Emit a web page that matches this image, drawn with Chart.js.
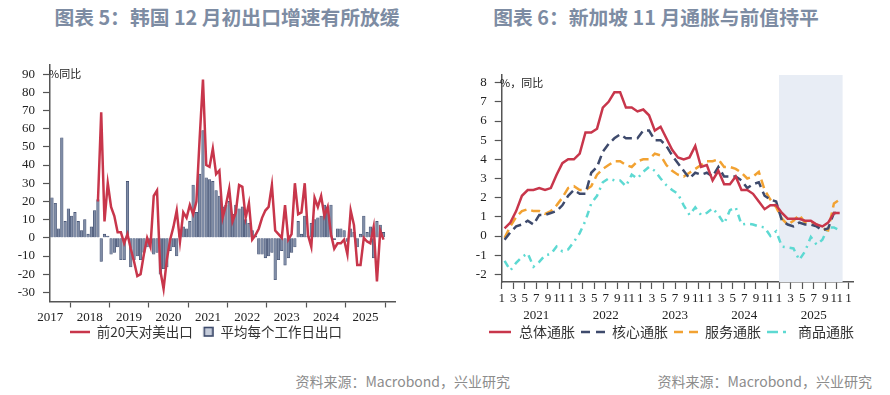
<!DOCTYPE html>
<html><head><meta charset="utf-8">
<script src="https://cdn.jsdelivr.net/npm/chart.js@4.4.1/dist/chart.umd.min.js"></script>
<style>
html,body{margin:0;padding:0;background:#fff;width:890px;height:395px;overflow:hidden;position:relative;}
.title{position:absolute;top:4px;font-family:"Noto Sans CJK SC";font-weight:bold;font-size:19.8px;line-height:26px;color:#7d8ca3;white-space:nowrap;transform:translateX(-50%);}
.unit{position:absolute;font-family:"Noto Sans CJK SC";font-size:11px;line-height:16px;color:#222;white-space:nowrap;}
.src{position:absolute;top:372px;font-family:"Noto Sans CJK SC";font-size:14px;line-height:18px;color:#8c8c8c;white-space:nowrap;}
canvas{position:absolute;top:0;}
</style></head>
<body>
<div class="title" style="left:227px">图表 5：韩国 12 月初出口增速有所放缓</div>
<div class="title" style="left:656px">图表 6：新加坡 11 月通胀与前值持平</div>
<canvas id="c1" width="445" height="360" style="left:0"></canvas>
<canvas id="c2" width="445" height="360" style="left:445px"></canvas>
<div class="unit" style="left:49px;top:65px">%同比</div>
<div class="unit" style="left:500px;top:74px">%，同比</div>
<div class="src" style="right:380px">资料来源：Macrobond，兴业研究</div>
<div class="src" style="right:18px">资料来源：Macrobond，兴业研究</div>
<script>
// ---------- Chart 5: Korea (monthly, Jul 2017 - Dec 2025) ----------
const krMonths = [];
for (let y = 2017; y <= 2025; y++) for (let m = 1; m <= 12; m++) {
  if (y === 2017 && m < 7) continue;
  krMonths.push(y + '-' + String(m).padStart(2, '0'));
}
// 平均每个工作日出口 (YoY, %)
const krDailyExports = [
  22, 19, 5, 55, 9, 16,
  12, 14, 9, 4, 10, 2, 6, 15, 21, -13, 2, 1,
  -9, -8, -5, -12, -12, 31, -16, -12, -10, -12, -8, -5,
  -2, -9, -8, -20, -17, -16, -7, -5, -10, 2, 6, 5,
  9, 29, 14, 35, 59, 33, 32, 31, 26, 23, 17, 18,
  20, 13, 18, 16, 17, 10, 8, 4, 1, -9, -9, -11,
  -10, -8, -23, -12, -7, -15, -11, -8, -5, 9, 2, 12,
  1, 8, 10, 11, 12, 18, 17, 18, -1, 5, 5, 4,
  -2, 5, 3, -5, 2, 12, 3, 6, -11, 9, 7, 3
];
// 前20天对美出口 (YoY, %)
const krUsExports = [
  null, null, null, null, null, null,
  null, null, null, null, null, null, null, null, 20, 69, 9, 30,
  17, 12, 3, 3, -3, 2, -6, -13, -21, -20, -9, 0,
  -5, 23, 26, -18, -28, -12, -1, 6, 15, -2, 14, 11,
  18, 13, 20, 55, 87, 40, 39, 49, 35, 37, 11, 18,
  27, 9, 14, 29, 28, 11, 19, -1, 1.5, 5, 11, 15,
  17, 29, 4, 2, 0, 18, -1, 2, 30, 13, 14, 30,
  1.5, -5, 22, 17, 23, 12, 17, 2, -6, -3, -3, -1,
  -9, 15, 7, -15, -15, 0, -2, -3, 6, -24, 4, -1
];
const krYears = ['2017','2018','2019','2020','2021','2022','2023','2024','2025'];
const krYTicks = [-30,-20,-10,0,10,20,30,40,50,60,70,80,90];

// ---------- Chart 6: Singapore (monthly, Jan 2021 - Nov 2025) ----------
const sgMonths = [];
for (let y = 2021; y <= 2025; y++) for (let m = 1; m <= 12; m++) {
  if (y === 2025 && m > 11) continue;
  sgMonths.push(y + '-' + String(m).padStart(2, '0'));
}
const sgHeadline = [
  0.4, 0.7, 1.3, 2.1, 2.4, 2.4, 2.5, 2.4, 2.5, 3.2, 3.8, 4.0,
  4.0, 4.3, 5.4, 5.4, 5.6, 6.7, 7.0, 7.5, 7.5, 6.7, 6.7, 6.5,
  6.6, 6.3, 5.5, 5.7, 5.1, 4.5, 4.1, 4.0, 4.1, 4.7, 3.6, 3.7,
  2.9, 3.4, 2.7, 2.7, 3.1, 2.4, 2.4, 2.2, 1.8, 1.4, 1.6, 1.6,
  1.2, 0.9, 0.9, 0.9, 0.8, 0.8, 0.6, 0.5, 0.7, 1.2, 1.2
];
const sgCore = [
  -0.2, 0.2, 0.5, 0.6, 0.8, 0.6, 1.1, 1.1, 1.2, 1.3, 1.6, 2.1,
  2.4, 2.2, 2.2, 3.3, 3.6, 4.4, 4.8, 5.1, 5.3, 5.1, 5.1, 5.1,
  5.5, 5.5, 5.0, 5.0, 4.7, 4.2, 3.8, 3.4, 3.0, 3.3, 3.2, 3.3,
  3.1, 3.6, 3.1, 3.1, 3.1, 2.9, 2.5, 2.7, 2.8, 2.1, 1.9, 1.8,
  0.8, 0.6, 0.5, 0.7, 0.6, 0.6, 0.5, 0.3, 0.4, 1.2, 1.2
];
const sgServices = [
  -0.1, 0.5, 1.0, 1.3, 1.4, 1.3, 1.3, 1.15, 1.3, 1.6, 2.0, 2.5,
  2.6, 2.4, 2.4, 2.6, 3.2, 3.5, 3.7, 3.9, 3.9, 3.7, 3.6, 3.9,
  4.0, 4.0, 4.3, 4.2, 3.7, 3.4, 3.2, 3.1, 3.3, 3.5, 3.7, 3.9,
  3.9, 4.0, 3.6, 3.6, 3.5, 3.3, 3.0, 3.1, 3.35, 2.4, 1.9, 1.5,
  0.9, 0.6, 0.8, 1.1, 0.7, 0.75, 0.6, 0.4, 0.3, 1.7, 1.9
];
const sgGoods = [
  -1.3, -1.8, -1.4, -1.1, -0.9, -1.6, -1.35, -1.0, -0.95, -0.55, -0.8, -0.7,
  -0.3, 0.15, 0.8, 1.7, 2.1, 2.8, 3.0, 2.9, 2.9, 2.6, 3.2, 3.0,
  3.35, 3.6, 3.4, 3.0, 2.65, 2.4, 2.2, 1.6, 1.1, 1.5, 1.1, 1.2,
  1.45, 1.1, 0.65, 1.35, 1.5, 0.6, 0.65, 0.6, 0.5, 0.45, 0.0, 0.25,
  -0.55, -0.6, -0.65, -1.25, -0.8, -0.05, -0.45, -0.2, 0.45, 0.45, 0.3
];
const sgYears = ['2021','2022','2023','2024','2025'];
const sgMonthTicks = ['1','3','5','7','9','11'];
const sgYTicks = [-2,-1,0,1,2,3,4,5,6,7,8];
const sgShadeFrom = '2025-01', sgShadeTo = '2025-11';

// ---------- helpers ----------
function monthIndex(label, baseYear) { // months since Jan of baseYear
  const [y, m] = label.split('-').map(Number);
  return (y - baseYear) * 12 + (m - 1);
}
function lineSample(color, dash, w) {
  const c = document.createElement('canvas'); c.width = w; c.height = 6;
  const g = c.getContext('2d'); g.strokeStyle = color; g.lineWidth = 2.5; g.setLineDash(dash);
  g.beginPath(); g.moveTo(0, 3); g.lineTo(w, 3); g.stroke(); return c;
}
function boxSample(fill, stroke, w) {
  const c = document.createElement('canvas'); c.width = w; c.height = 12;
  const g = c.getContext('2d'); g.fillStyle = fill; g.fillRect(w - 9.5, 1.5, 8.5, 8.5);
  g.strokeStyle = stroke; g.lineWidth = 1.6; g.strokeRect(w - 9.5, 1.5, 8.5, 8.5); return c;
}
function legendFrom(samples) {
  return (chart) => chart.data.datasets.map((ds, i) => ({
    text: ds.label, pointStyle: samples[i], datasetIndex: i, hidden: false,
    lineWidth: 0, fillStyle: 'rgba(0,0,0,0)', strokeStyle: 'rgba(0,0,0,0)', fontColor: '#333'
  }));
}
// place the legend row: opts.x = left of first sample, opts.y = row centre
const legendPlace = {
  id: 'legendPlace',
  afterLayout(chart, args, opts) {
    const lg = chart.legend; if (!lg) return;
    const pad = lg.options.labels.padding;
    const h = lg.height;
    lg.left = opts.x - pad; lg.right = chart.width + 200; lg.width = lg.right - lg.left;
    lg.top = opts.y - pad - opts.itemH / 2; lg.bottom = lg.top + h;
  }
};

Chart.defaults.font.family = "'Liberation Serif', 'Times New Roman', serif";
Chart.defaults.font.size = 13;
Chart.defaults.color = '#222';

const AX = '#555';
const RED = '#c8364b', NAVY = '#3e4a6c', ORANGE = '#f2a232', CYAN = '#5dd9d2';
const BARFILL = '#7f8ca6', BAREDGE = '#3d4a6b';

// ---------- Chart 5 ----------
const krX = krMonths.map(l => monthIndex(l, 2017) + 0.5);
new Chart(document.getElementById('c1'), {
  type: 'bar',
  data: { datasets: [
    { type: 'line', label: '前20天对美出口', data: krUsExports.map((v, i) => ({ x: krX[i], y: v })),
      borderColor: RED, borderWidth: 2.5, pointRadius: 0, tension: 0, spanGaps: false },
    { type: 'bar', label: '平均每个工作日出口', data: krDailyExports.map((v, i) => ({ x: krX[i], y: v })),
      backgroundColor: BARFILL, borderColor: BAREDGE, borderWidth: 0.6, barThickness: 2.6 }
  ]},
  plugins: [legendPlace],
  options: {
    responsive: false, animation: false,
    layout: { padding: { left: 0, right: 50, top: 65, bottom: 4 } },
    plugins: {
      tooltip: { enabled: false },
      legendPlace: { x: 70, y: 332, itemH: 13.5 },
      legend: { position: 'bottom', align: 'start', labels: {
        usePointStyle: true, pointStyleWidth: 20, padding: 1, color: '#333',
        font: { family: "'Noto Sans CJK SC'", size: 13.5 },
        generateLabels: legendFrom([lineSample(RED, [], 20), boxSample('#c5ccda', BAREDGE, 20)])
      } }
    },
    scales: {
      x: {
        type: 'linear', min: 5.9, max: 111, offset: false,
        grid: { offset: false, drawOnChartArea: false, drawTicks: true, tickLength: 6, tickWidth: 1.2,
          tickColor: (c) => (c.tick && c.tick.value % 12 === 0) ? AX : 'rgba(0,0,0,0)' },
        border: { display: true, color: AX, width: 1.5 },
        ticks: { autoSkip: false, maxRotation: 0, padding: 2, color: '#222',
          callback: (v) => (v % 12 === 6) ? krYears[(v - 6) / 12] : '' },
        afterBuildTicks: (s) => {
          const t = [];
          for (let k = 0; k <= 120; k += 6) if (k >= s.min && k <= s.max && (k % 12 === 0 || krYears[(k - 6) / 12])) t.push({ value: k });
          s.ticks = t;
        },
        afterFit: (s) => { s.height = 30; }
      },
      y: {
        min: -35, max: 95,
        grid: { drawOnChartArea: false, drawTicks: true, tickLength: 7, tickColor: AX, tickWidth: 1.2 },
        border: { display: true, color: AX, width: 1.5 },
        ticks: { padding: 8, color: '#222' },
        afterBuildTicks: (s) => { s.ticks = krYTicks.map(v => ({ value: v })); },
        afterFit: (s) => { s.width = 50; }
      }
    }
  }
});

// ---------- Chart 6 ----------
const shadePlugin = {
  id: 'shade',
  beforeDatasetsDraw(chart, args, opts) {
    const { ctx, chartArea, scales: { x } } = chart;
    const x0 = x.getPixelForValue(opts.from), x1 = x.getPixelForValue(opts.to);
    ctx.save(); ctx.fillStyle = opts.color;
    ctx.fillRect(x0, chartArea.top, x1 - x0, chartArea.bottom - chartArea.top);
    ctx.restore();
  }
};
const sgX = sgMonths.map(l => monthIndex(l, 2021) + 0.5);
const toXY = (arr) => arr.map((v, i) => ({ x: sgX[i], y: v }));
new Chart(document.getElementById('c2'), {
  type: 'line',
  data: { datasets: [
    { label: '总体通胀', data: toXY(sgHeadline), borderColor: RED, borderWidth: 2.5 },
    { label: '核心通胀', data: toXY(sgCore), borderColor: NAVY, borderWidth: 2.5, borderDash: [9, 5] },
    { label: '服务通胀', data: toXY(sgServices), borderColor: ORANGE, borderWidth: 2.5, borderDash: [9, 5] },
    { label: '商品通胀', data: toXY(sgGoods), borderColor: CYAN, borderWidth: 2.5, borderDash: [7, 5, 2, 5] }
  ]},
  plugins: [shadePlugin, legendPlace],
  options: {
    responsive: false, animation: false,
    elements: { point: { radius: 0 }, line: { tension: 0 } },
    layout: { padding: { left: 0, right: 37, top: 75, bottom: 3 } },
    plugins: {
      tooltip: { enabled: false },
      shade: { from: monthIndex(sgShadeFrom, 2021), to: monthIndex(sgShadeTo, 2021) + 1, color: '#e8edf5' },
      legendPlace: { x: 43, y: 332, itemH: 14 },
      legend: { position: 'bottom', align: 'start', labels: {
        usePointStyle: true, pointStyleWidth: 24, padding: 6, color: '#333',
        font: { family: "'Noto Sans CJK SC'", size: 14 },
        generateLabels: legendFrom([lineSample(RED, [], 22), lineSample(NAVY, [9, 6], 24),
                                     lineSample(ORANGE, [9, 6], 24), lineSample(CYAN, [11, 5, 3, 5], 24)])
      } }
    },
    scales: {
      x: {
        type: 'linear', min: 0, max: 60.8, offset: false,
        grid: { offset: false, drawOnChartArea: false, drawTicks: true, tickLength: 7, tickWidth: 1.2, tickColor: AX },
        border: { display: true, color: AX, width: 1.5 },
        ticks: { autoSkip: false, maxRotation: 0, padding: 1, color: '#222', font: { size: 13, lineHeight: 1.3 },
          callback: (v) => {
            const lab = sgMonthTicks[(v % 12) / 2];
            return (v % 12 === 6) ? [lab, sgYears[(v - 6) / 12]] : [lab];
          } },
        afterBuildTicks: (s) => {
          const t = [];
          for (let m = 0; m <= 60; m += 2) t.push({ value: m });
          s.ticks = t;
        },
        afterFit: (s) => { s.height = 45; }
      },
      y: {
        min: -2.4, max: 8.4,
        grid: { drawOnChartArea: false, drawTicks: true, tickLength: 7, tickColor: AX, tickWidth: 1.2 },
        border: { display: true, color: AX, width: 1.5 },
        ticks: { padding: 8, color: '#222' },
        afterBuildTicks: (s) => { s.ticks = sgYTicks.map(v => ({ value: v })); },
        afterFit: (s) => { s.width = 56.7; }
      }
    }
  }
});
</script>
</body></html>
